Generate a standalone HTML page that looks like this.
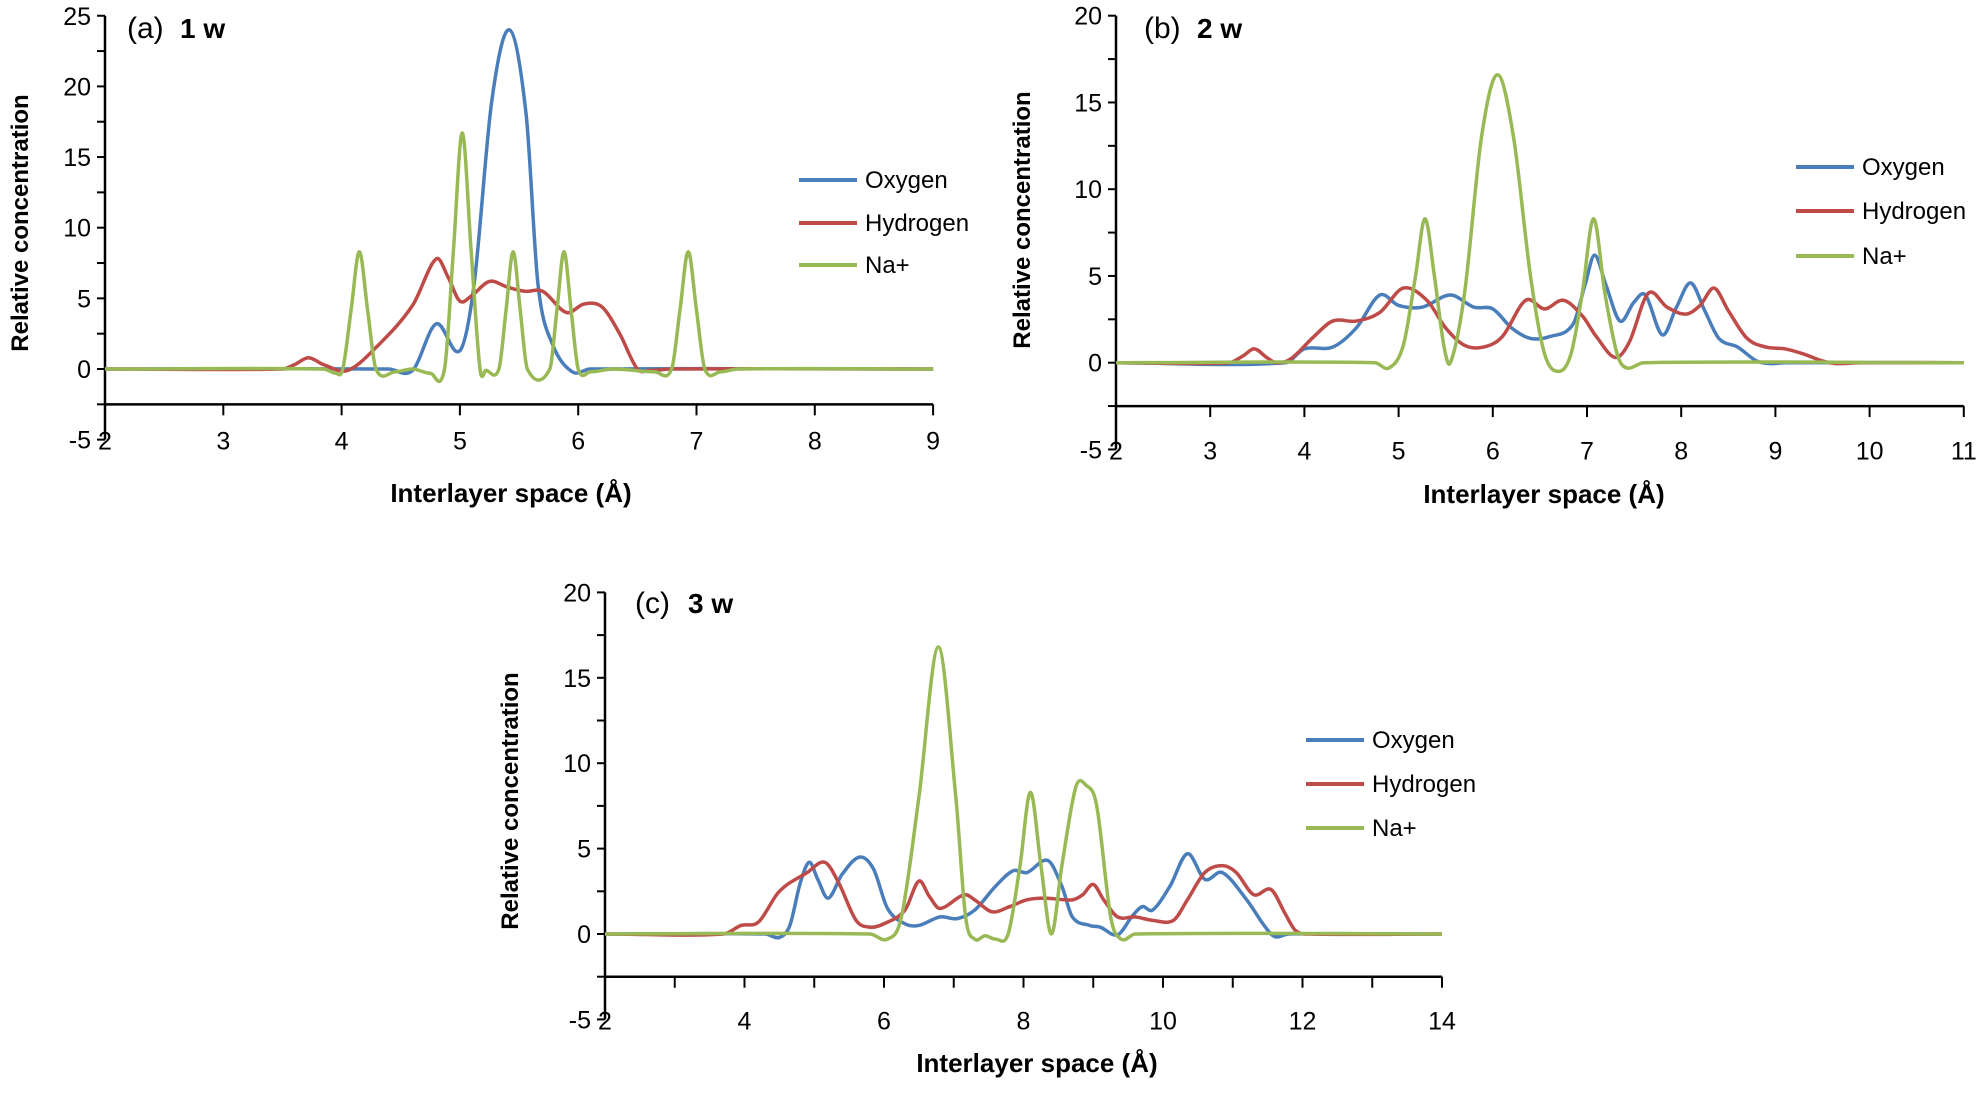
<!DOCTYPE html>
<html><head><meta charset="utf-8"><style>
html,body{margin:0;padding:0;background:#fff;}
svg{display:block;font-family:"Liberation Sans",sans-serif;}
</style></head><body>
<svg id="s" width="1984" height="1093" viewBox="0 0 1984 1093" xmlns="http://www.w3.org/2000/svg">
<g id="g"></g>
<text x="127" y="38" font-size="30" fill="#000">(a)</text><text x="180" y="38" font-size="28" font-weight="bold" fill="#000">1 w</text>
<text x="1144" y="38" font-size="30" fill="#000">(b)</text><text x="1197" y="38" font-size="28" font-weight="bold" fill="#000">2 w</text>
<text x="635" y="613" font-size="30" fill="#000">(c)</text><text x="688" y="613" font-size="28" font-weight="bold" fill="#000">3 w</text>
<text x="511" y="502" font-size="26" font-weight="bold" text-anchor="middle">Interlayer space (Å)</text>
<text x="1544" y="503" font-size="26" font-weight="bold" text-anchor="middle">Interlayer space (Å)</text>
<text x="1037" y="1072" font-size="26" font-weight="bold" text-anchor="middle">Interlayer space (Å)</text>
<text transform="translate(28,223) rotate(-90)" font-size="24" font-weight="bold" text-anchor="middle">Relative concentration</text>
<text transform="translate(1030,220) rotate(-90)" font-size="24" font-weight="bold" text-anchor="middle">Relative concentration</text>
<text transform="translate(518,801) rotate(-90)" font-size="24" font-weight="bold" text-anchor="middle">Relative concentration</text>
</svg>
<script>
var NS="http://www.w3.org/2000/svg",G=document.getElementById("g");
function el(t,a,txt){var e=document.createElementNS(NS,t);for(var k in a)e.setAttribute(k,a[k]);if(txt!==undefined)e.textContent=txt;G.appendChild(e);return e;}
var C={o:"#4a7ebb",h:"#be4b48",n:"#98b954"};
function panel(p){
 var X=function(v){return p.x0+(v-p.xmin)*p.ux;},Y=function(v){return p.y0-v*p.uy;};
 var xa=Y(-2.5);
 el("line",{x1:p.x0,y1:Y(p.ymax),x2:p.x0,y2:Y(-5),stroke:"#000","stroke-width":2.5});
 el("line",{x1:p.x0,y1:xa,x2:X(p.xmax),y2:xa,stroke:"#000","stroke-width":2.5});
 for(var v=-5;v<=p.ymax;v+=2.5){el("line",{x1:p.x0-8,y1:Y(v),x2:p.x0,y2:Y(v),stroke:"#000","stroke-width":2});}
 for(var v=-5;v<=p.ymax;v+=5){el("text",{x:p.x0-14,y:Y(v)+9,"font-size":25,"text-anchor":"end"},String(v));}
 for(var v=p.xmin;v<=p.xmax;v+=1){el("line",{x1:X(v),y1:xa,x2:X(v),y2:xa+11,stroke:"#000","stroke-width":2});}
 for(var v=p.xmin;v<=p.xmax;v+=p.xs){el("text",{x:X(v),y:Y(-5)+10,"font-size":25,"text-anchor":"middle"},String(v));}
 ["o","h","n"].forEach(function(k){
  var d=p.d[k].slice();d.unshift([p.xmin,0]);d.push([p.xmax,0]);
  var n=d.length,m=[];
  for(var i=0;i<n;i++){
   if(i==0||i==n-1){m.push(0);continue;}
   var s1=(d[i][1]-d[i-1][1])/(d[i][0]-d[i-1][0]),s2=(d[i+1][1]-d[i][1])/(d[i+1][0]-d[i][0]);
   m.push((d[i+1][1]-d[i-1][1])/(d[i+1][0]-d[i-1][0]));
   if(s1==0&&s2==0)m[i]=0;
  }
  var s="M"+X(d[0][0])+","+Y(d[0][1]);
  for(var i=0;i<n-1;i++){var dx=d[i+1][0]-d[i][0];
   s+=" C"+X(d[i][0]+dx/3)+","+Y(d[i][1]+m[i]*dx/3)+" "+X(d[i+1][0]-dx/3)+","+Y(d[i+1][1]-m[i+1]*dx/3)+" "+X(d[i+1][0])+","+Y(d[i+1][1]);}
  el("path",{d:s,fill:"none",stroke:C[k],"stroke-width":3.5,"stroke-linejoin":"round"});
 });
 var names=[["o","Oxygen"],["h","Hydrogen"],["n","Na+"]];
 names.forEach(function(n,i){var y=p.ly[i];
  el("line",{x1:p.lx,y1:y,x2:p.lx+58,y2:y,stroke:C[n[0]],"stroke-width":4});
  el("text",{x:p.lx+66,y:y+8,"font-size":24},n[1]);});
}
function pk(c,h,w){return[[c-w,0],[c-w*0.5,h*0.5],[c,h],[c+w*0.5,h*0.5],[c+w,0]];}
panel({x0:105,xmin:2,xmax:9,xs:1,ux:118.3,y0:369,uy:14.13,ymax:25,lx:799,ly:[180,223,265],d:{
 o:[[4.4,0],[4.6,-0.1],[4.8,3.2],[5.0,1.3],[5.12,6],[5.27,19],[5.42,24],[5.56,18],[5.66,6],[5.78,1.8],[5.95,-0.2],[6.1,0]],
 h:[[3.5,0],[3.6,0.3],[3.72,0.8],[3.85,0.3],[4.05,-0.1],[4.3,1.6],[4.6,4.5],[4.8,7.8],[4.9,6.5],[5.0,4.8],[5.1,5.2],[5.25,6.2],[5.4,5.8],[5.55,5.5],[5.7,5.5],[5.9,4.0],[6.05,4.6],[6.2,4.4],[6.35,2.5],[6.5,0],[6.6,-0.1],[6.8,0]],
 n:[[3.85,0],[3.95,-0.3]].concat(pk(4.15,8.3,0.14),[[4.45,-0.2],[4.6,0],[4.75,-0.3]],pk(5.02,16.7,0.15),[[5.22,-0.1]],pk(5.45,8.3,0.12),pk(5.88,8.3,0.12),[[6.1,-0.2],[6.3,0],[6.65,-0.2]],pk(6.93,8.3,0.14),[[7.2,-0.2],[7.35,0]])}});
panel({x0:1116,xmin:2,xmax:11,xs:1,ux:94.2,y0:362.7,uy:17.35,ymax:20,lx:1796,ly:[167,211,256],d:{
 o:[[3.8,0],[4.0,0.8],[4.3,0.9],[4.55,2],[4.8,3.9],[5.0,3.3],[5.25,3.2],[5.55,3.9],[5.8,3.2],[6.0,3.1],[6.2,2.0],[6.4,1.4],[6.6,1.5],[6.85,2.2],[6.98,4.5],[7.08,6.2],[7.2,4.5],[7.35,2.4],[7.5,3.5],[7.62,3.9],[7.8,1.6],[7.95,3.2],[8.1,4.6],[8.25,3.0],[8.4,1.4],[8.6,0.9],[8.8,0.1],[8.95,-0.05],[9.1,0]],
 h:[[3.2,0],[3.35,0.4],[3.47,0.8],[3.6,0.3],[3.7,0],[3.85,0.2],[4.1,1.5],[4.3,2.4],[4.55,2.4],[4.8,2.9],[5.05,4.3],[5.3,3.6],[5.5,2.0],[5.7,1.0],[5.9,0.9],[6.1,1.5],[6.35,3.6],[6.55,3.1],[6.75,3.6],[6.95,2.7],[7.1,1.5],[7.3,0.3],[7.45,1.2],[7.65,4.0],[7.85,3.2],[8.05,2.8],[8.2,3.3],[8.35,4.3],[8.5,3.0],[8.7,1.4],[8.9,0.9],[9.1,0.8],[9.3,0.5],[9.5,0.1],[9.65,-0.05],[9.9,0]],
 n:[[4.75,0],[4.9,-0.3],[5.05,1],[5.18,5],[5.28,8.3],[5.38,5],[5.48,1],[5.55,0],[5.7,4],[5.88,13],[6.05,16.6],[6.22,13],[6.4,5],[6.55,0.5],[6.7,-0.5],[6.83,0.5],[6.95,4],[7.07,8.3],[7.19,4],[7.32,0.5],[7.42,-0.3],[7.6,0]]}});
panel({x0:605,xmin:2,xmax:14,xs:2,ux:69.75,y0:934,uy:17.08,ymax:20,lx:1306,ly:[740,784,828],d:{
 o:[[4.3,0],[4.5,-0.2],[4.65,0.5],[4.8,3],[4.93,4.2],[5.05,3.2],[5.2,2.1],[5.4,3.5],[5.65,4.5],[5.85,3.8],[6.05,1.5],[6.3,0.6],[6.5,0.5],[6.8,1.0],[7.05,0.9],[7.3,1.4],[7.6,2.8],[7.85,3.7],[8.05,3.6],[8.35,4.3],[8.55,2.8],[8.7,1.0],[8.95,0.5],[9.1,0.4],[9.35,-0.05],[9.55,1.0],[9.7,1.6],[9.85,1.4],[10.1,2.8],[10.35,4.7],[10.6,3.2],[10.85,3.6],[11.2,2.0],[11.45,0.5],[11.6,-0.15],[11.8,0]],
 h:[[3.7,0],[3.95,0.5],[4.2,0.7],[4.5,2.5],[4.9,3.6],[5.15,4.2],[5.35,3.0],[5.6,0.8],[5.8,0.4],[6.0,0.6],[6.3,1.4],[6.5,3.1],[6.65,2.2],[6.8,1.5],[7.15,2.3],[7.3,2.0],[7.55,1.3],[7.8,1.6],[8.05,2.0],[8.3,2.1],[8.7,2.0],[8.85,2.3],[9.0,2.9],[9.15,2.0],[9.35,1.0],[9.6,1.0],[9.85,0.8],[10.15,0.8],[10.35,2.0],[10.6,3.6],[10.85,4.0],[11.05,3.6],[11.3,2.3],[11.55,2.6],[11.75,1.2],[11.9,0.2],[12.1,0]],
 n:[[5.8,0],[6.05,-0.3],[6.25,1],[6.5,8],[6.78,16.8],[7.03,8],[7.17,1],[7.3,-0.3],[7.45,-0.1],[7.6,-0.3],[7.78,0],[7.95,4],[8.1,8.3],[8.25,4],[8.4,0],[8.55,4],[8.75,8.6],[8.9,8.7],[9.05,7.5],[9.25,1],[9.4,-0.3],[9.6,0]]}});
</script>
</body></html>
